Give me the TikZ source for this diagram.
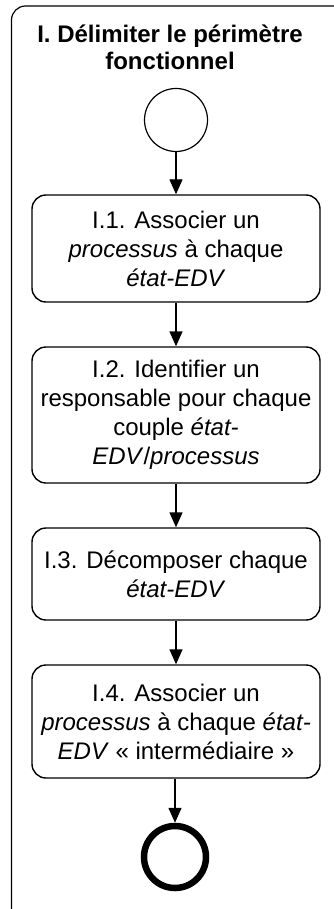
\documentclass[tikz,border=0pt]{standalone}
\usepackage{fontspec}
\setmainfont{Liberation Sans}
\usetikzlibrary{arrows.meta}
\begin{document}
\begin{tikzpicture}[x=1pt,y=-1pt,
  stepbox/.style={draw=black,line width=1.4pt,rounded corners=14pt,minimum width=288pt,inner sep=0pt,align=center,font=\fontsize{24}{29}\selectfont},
  flow/.style={draw=black,line width=1.4pt,-{Triangle[length=15pt,width=13pt]}},
  container/.style={draw=black,line width=1.2pt,rounded corners=14pt}]
\useasboundingbox (0,0) rectangle (334,909);
\begin{scope}
\clip (0,0) rectangle (334,909);
\draw[container] (11.5,6) rectangle (350,925);
\end{scope}
\node[align=center,font=\bfseries\fontsize{24}{27}\selectfont] (title) at (170,47) {I. Délimiter le périmètre\\fonctionnel};
\node[draw=black,line width=1.2pt,circle,minimum size=63pt,inner sep=0pt] (start) at (176,120) {};
\node[stepbox,minimum height=107pt] (s1) at (176,248.5) {I.1. Associer un\\\textit{processus} à chaque\\\textit{état-EDV}};
\node[stepbox,minimum height=136pt] (s2) at (176,415) {I.2. Identifier un\\responsable pour chaque\\couple \textit{état-}\\\textit{EDV}/\textit{processus}};
\node[stepbox,minimum height=92pt] (s3) at (176,574) {I.3. Décomposer chaque\\\textit{état-EDV}};
\node[stepbox,minimum height=113pt] (s4) at (176,721.5) {I.4. Associer un\\\textit{processus} à chaque \textit{état-}\\\textit{EDV} « intermédiaire »};
\node[draw=black,line width=6.5pt,circle,minimum size=62pt,inner sep=0pt] (end) at (175,857) {};
\draw[flow] (start) -- (s1);
\draw[flow] (s1) -- (s2);
\draw[flow] (s2) -- (s3);
\draw[flow] (s3) -- (s4);
\draw[flow] (s4.south -| end) -- (end);
\end{tikzpicture}
\end{document}
